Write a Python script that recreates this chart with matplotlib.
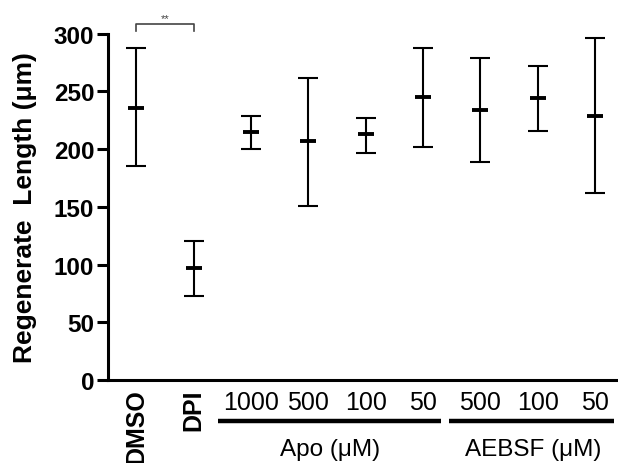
import matplotlib
matplotlib.use("Agg")
import matplotlib.pyplot as plt
import numpy as np

plt.rcParams['font.family'] = ['Liberation Sans', 'DejaVu Sans']

# dados
grupos = ["DMSO", "DPI", "Apo 1000", "Apo 500", "Apo 100", "Apo 50",
          "AEBSF 500", "AEBSF 100", "AEBSF 50"]
medias = [236, 97, 215, 207, 213, 245, 234, 244, 229]
topo = [288, 120, 229, 262, 227, 288, 279, 272, 296]
base = [185, 73, 200, 151, 197, 202, 189, 216, 162]
conc_apo = ["1000", "500", "100", "50"]
conc_aebsf = ["500", "100", "50"]
yticks = [0, 50, 100, 150, 200, 250, 300]

x = np.arange(len(grupos))
med = np.array(medias)
err = [med - np.array(base), np.array(topo) - med]

fig = plt.figure(figsize=(6.18, 4.64), dpi=100)
ax = fig.add_axes([0.175, 0.179, 0.823, 0.746])

ax.errorbar(x, med, yerr=err, fmt='none', ecolor='black', elinewidth=1.5,
            capsize=7, capthick=1.5)
ax.plot(x, med, linestyle='none', marker='_', markersize=12, mew=2.8, color='black')

ax.set_ylim(0, 300)
ax.set_xlim(-0.49, 8.38)
ax.set_yticks(yticks)
ax.set_xticks([])
for s in ['top', 'right']:
    ax.spines[s].set_visible(False)
for s in ['left', 'bottom']:
    ax.spines[s].set_linewidth(2.2)
ax.tick_params(axis='y', length=8, width=2.2, labelsize=17.5, pad=2)
for lb in ax.get_yticklabels():
    lb.set_fontweight('bold')
ax.set_ylabel("Regenerate  Length (\u03bcm)", fontsize=19, fontweight='bold', labelpad=12)

# rótulos do eixo x
tr = ax.get_xaxis_transform()
for i in range(2):
    ax.text(x[i], -0.025, grupos[i], transform=tr, rotation=90, ha='center', va='top',
            fontsize=18, fontweight='bold', clip_on=False)
for i, c in enumerate(conc_apo):
    ax.text(x[2 + i], -0.065, c, transform=tr, ha='center', va='center',
            fontsize=18, clip_on=False)
for i, c in enumerate(conc_aebsf):
    ax.text(x[6 + i], -0.065, c, transform=tr, ha='center', va='center',
            fontsize=18, clip_on=False)
ax.plot([1.42, 5.32], [-0.118, -0.118], transform=tr, color='black', lw=3.2,
        solid_capstyle='butt', clip_on=False)
ax.plot([5.46, 8.33], [-0.118, -0.118], transform=tr, color='black', lw=3.2,
        solid_capstyle='butt', clip_on=False)
ax.text(3.38, -0.2, "Apo (\u03bcM)", transform=tr, ha='center', va='center',
        fontsize=17.5, clip_on=False)
ax.text(6.92, -0.2, "AEBSF (\u03bcM)", transform=tr, ha='center', va='center',
        fontsize=17.5, clip_on=False)

# barra de significância
ax.plot([0, 0, 1, 1], [302, 308.5, 308.5, 302], color='#444444', lw=1.2, clip_on=False)
ax.text(0.5, 309, "**", ha='center', va='bottom', fontsize=8, color='#444444')

fig.savefig("out.png", dpi=100)
